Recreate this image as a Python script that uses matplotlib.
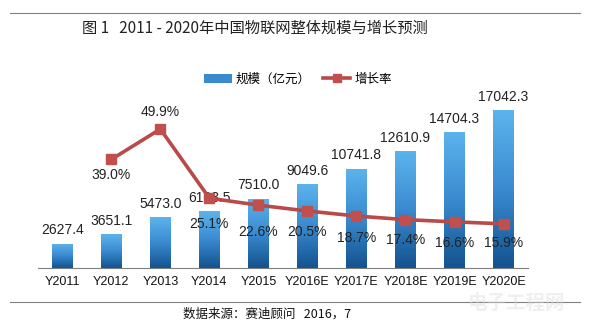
import numpy as np
import matplotlib
matplotlib.use("Agg")
from matplotlib import pyplot as plt
from matplotlib.lines import Line2D
from matplotlib.patches import Patch
from matplotlib.colors import LinearSegmentedColormap

plt.rcParams['font.family'] = ['Noto Sans CJK SC', 'DejaVu Sans']
NUM_FONT = ["Liberation Sans", "DejaVu Sans"]

years = ["Y2011", "Y2012", "Y2013", "Y2014", "Y2015",
         "Y2016E", "Y2017E", "Y2018E", "Y2019E", "Y2020E"]
scale = [2627.4, 3651.1, 5473.0, 6123.5, 7510.0,
         9049.6, 10741.8, 12610.9, 14704.3, 17042.3]
growth = [None, 39.0, 49.9, 25.1, 22.6, 20.5, 18.7, 17.4, 16.6, 15.9]

fig = plt.figure(figsize=(5.9, 3.27), dpi=100)
ax = fig.add_axes([0.064, 0.180, 0.831, 0.566])
x = np.arange(len(years))

# bars with a vertical blue gradient
bar_cmap = LinearSegmentedColormap.from_list("blues", ["#13538e", "#3a8ad0", "#5cb4ec"])
bars = ax.bar(x, scale, width=0.42, color="none", edgecolor="none", zorder=2)
grad = np.linspace(0, 1, 256).reshape(-1, 1)
for b in bars:
    x0, y0 = b.get_x(), b.get_y()
    w, h = b.get_width(), b.get_height()
    im = ax.imshow(grad, cmap=bar_cmap, origin="lower", aspect="auto",
                   extent=[x0, x0 + w, y0, y0 + h], zorder=2)
    im.set_clip_path(b)

ax.set_xlim(-0.5, len(years) - 0.5)
ax.set_ylim(0, 20000)
for xi, v in zip(x, scale):
    ax.text(xi, v + 700, f"{v:.1f}", ha="center", va="bottom", fontsize=10,
            family=NUM_FONT, color="#222222", zorder=5)

ax2 = ax.twinx()
ax2.set_ylim(0, 66.4)
gx = [xi for xi, g in zip(x, growth) if g is not None]
gy = [g for g in growth if g is not None]
ax2.plot(gx, gy, color="#b94a48", lw=2.6, marker="s", ms=7.5,
         markerfacecolor="#c0504d", markeredgecolor="#c0504d", zorder=4)

# label offsets (in % units) as the labels were nudged by hand
label_dy = [-3.0, 3.5, -6.8, -7.3, -5.0, -5.5, -4.8, -5.0, -4.2]
for xi, g, dy in zip(gx, gy, label_dy):
    va = "bottom" if dy > 0 else "top"
    ax2.text(xi, g + dy, f"{g:.1f}%", ha="center", va=va, fontsize=10,
             family=NUM_FONT, color="#222222", zorder=5)

for a in (ax, ax2):
    for s in ("top", "right", "left"):
        a.spines[s].set_visible(False)
    a.set_yticks([])
ax.spines["bottom"].set_color("#7f7f7f")
ax2.spines["bottom"].set_visible(False)
ax.set_xticks(x)
ax.set_xticklabels(years, fontsize=9, family=NUM_FONT, color="#111111")
ax.tick_params(axis="x", length=0, pad=6)

handles = [Patch(facecolor="#3a8ad0", edgecolor="none"),
           Line2D([], [], color="#b94a48", lw=2.6, marker="s", ms=6,
                  markerfacecolor="#c0504d", markeredgecolor="#c0504d")]
fig.legend(handles, ["规模（亿元）", "增长率"], loc="center", bbox_to_anchor=(0.505, 0.758),
           ncol=2, frameon=False, fontsize=9, handlelength=2.2, columnspacing=1.0,
           handletextpad=0.3)

fig.add_artist(Line2D([0.017, 0.983], [0.961, 0.961], color="#808080", lw=0.8))
fig.add_artist(Line2D([0.017, 0.983], [0.076, 0.076], color="#808080", lw=0.8))
fig.text(0.432, 0.915, "图 1   2011 - 2020年中国物联网整体规模与增长预测", ha="center", va="center",
         fontsize=11, color="#222222")
fig.text(0.452, 0.038, "数据来源：赛迪顾问   2016，7", ha="center", va="center",
         fontsize=9, color="#111111")
fig.text(0.875, 0.072, "电子工程网", ha="center", va="center", fontsize=14,
         color="#dcdcdc", alpha=0.45, fontweight="bold")

fig.savefig("out.png", dpi=100)
